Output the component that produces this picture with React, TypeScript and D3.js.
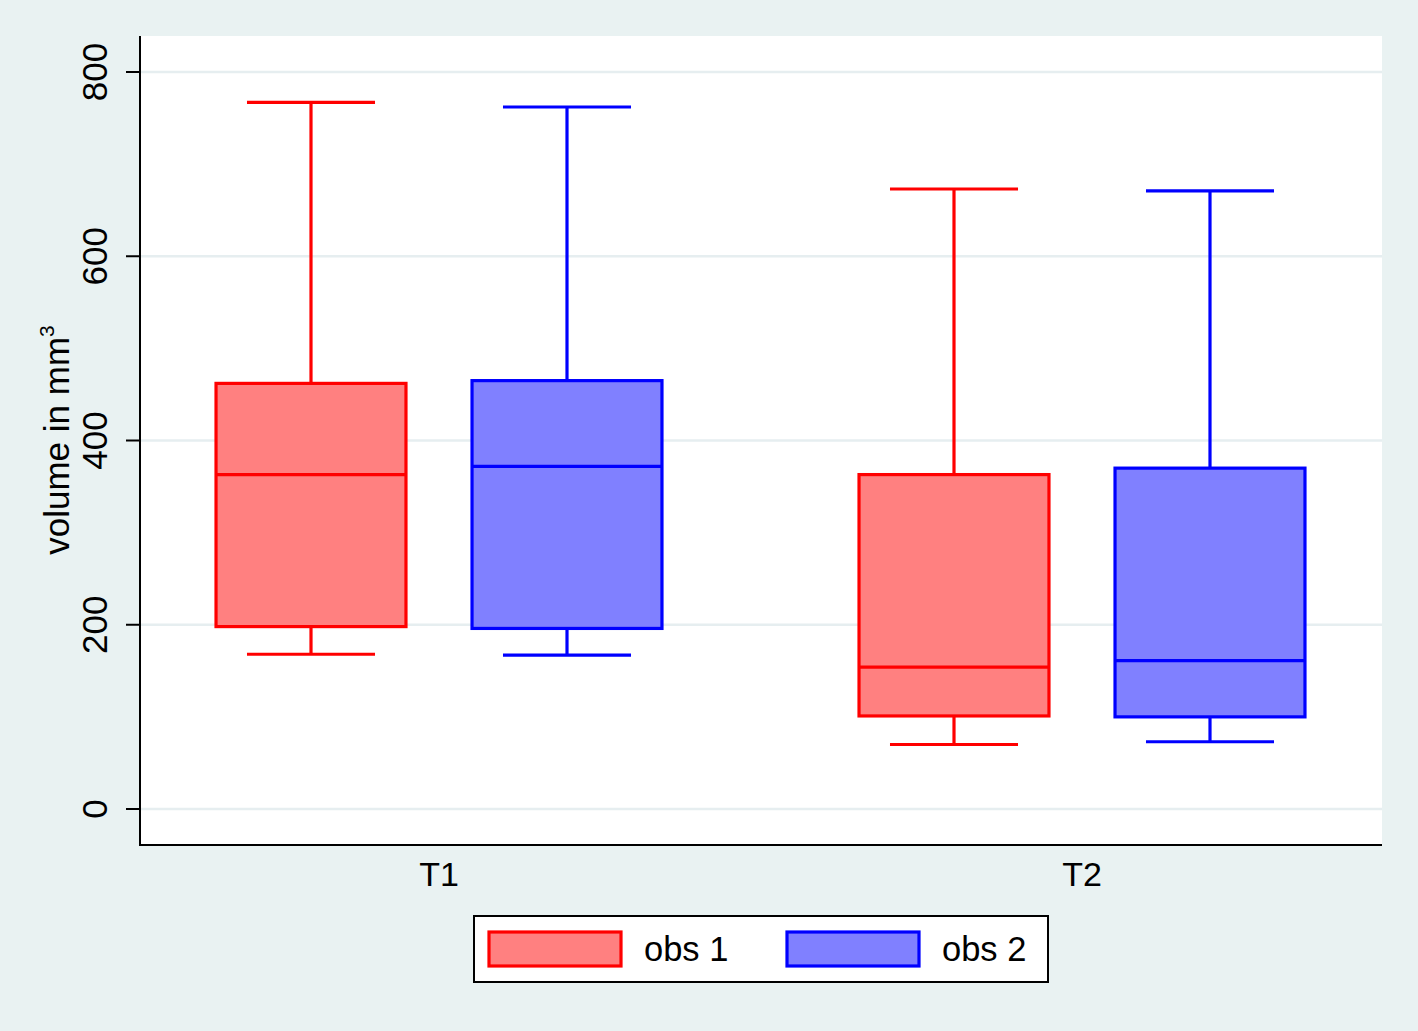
import React from "react";
import * as d3 from "d3";

const groups = ["T1", "T2"];
const seriesNames = ["obs 1", "obs 2"];
// [whiskerLow, Q1, median, Q3, whiskerHigh] per series per group
const obs1Stats = [
  [168, 198, 363, 462, 767],
  [70, 101, 154, 363, 673],
];
const obs2Stats = [
  [167, 196, 372, 465, 762],
  [73, 100, 161, 370, 671],
];
const yTicks = [0, 200, 400, 600, 800];

const W = 1418;
const H = 1031;
const plot = { left: 140, right: 1382, top: 36, bottom: 845 };
const strokeColors = ["#ff0000", "#0000ff"];
const fillColors = ["#ff8080", "#8080ff"];
const bg = "#e9f2f2";
const gridColor = "#e6eef0";
const FONT = "'Liberation Sans', Arial, Helvetica, sans-serif";

export default function App() {
  const y = d3.scaleLinear().domain([0, 800]).range([809, 72]);
  const xGroup = d3.scalePoint<string>().domain(groups).range([439, 1082]);
  const xSeries = d3
    .scaleBand<string>()
    .domain(seriesNames)
    .range([-256, 256])
    .paddingInner(0.258)
    .paddingOuter(0.129);
  const bw = xSeries.bandwidth();
  const capHalf = bw * 0.337;
  const allStats = [obs1Stats, obs2Stats];

  return (
    <svg
      width={W}
      height={H}
      style={{ position: "absolute", left: 0, top: 0, display: "block" }}
      fontFamily={FONT}
    >
      <rect x={0} y={0} width={W} height={H} fill={bg} />
      <rect
        x={plot.left}
        y={plot.top}
        width={plot.right - plot.left}
        height={plot.bottom - plot.top}
        fill="#ffffff"
      />
      {yTicks.map((t) => (
        <line
          key={"g" + t}
          x1={plot.left}
          x2={plot.right}
          y1={y(t)}
          y2={y(t)}
          stroke={gridColor}
          strokeWidth={2.5}
        />
      ))}
      {groups.map((g, gi) =>
        seriesNames.map((s, si) => {
          const st = allStats[si][gi];
          const x0 = (xGroup(g) as number) + (xSeries(s) as number);
          const cx = x0 + bw / 2;
          const [lo, q1, med, q3, hi] = st;
          return (
            <g key={g + s}>
              <line x1={cx} x2={cx} y1={y(hi)} y2={y(q3)} stroke={strokeColors[si]} strokeWidth={3.2} />
              <line x1={cx} x2={cx} y1={y(q1)} y2={y(lo)} stroke={strokeColors[si]} strokeWidth={3.2} />
              <line x1={cx - capHalf} x2={cx + capHalf} y1={y(hi)} y2={y(hi)} stroke={strokeColors[si]} strokeWidth={3.2} />
              <line x1={cx - capHalf} x2={cx + capHalf} y1={y(lo)} y2={y(lo)} stroke={strokeColors[si]} strokeWidth={3.2} />
              <rect
                x={x0}
                y={y(q3)}
                width={bw}
                height={y(q1) - y(q3)}
                fill={fillColors[si]}
                stroke={strokeColors[si]}
                strokeWidth={3.2}
              />
              <line x1={x0} x2={x0 + bw} y1={y(med)} y2={y(med)} stroke={strokeColors[si]} strokeWidth={3.2} />
            </g>
          );
        })
      )}
      {/* axes */}
      <line x1={plot.left} x2={plot.left} y1={plot.top} y2={plot.bottom + 1} stroke="#000" strokeWidth={2} />
      <line x1={plot.left - 1} x2={plot.right} y1={plot.bottom} y2={plot.bottom} stroke="#000" strokeWidth={2} />
      {yTicks.map((t) => (
        <g key={"t" + t}>
          <line x1={plot.left - 14} x2={plot.left} y1={y(t)} y2={y(t)} stroke="#000" strokeWidth={2} />
          <text
            transform={`translate(107,${y(t)}) rotate(-90)`}
            textAnchor="middle"
            fontSize={35}
            fill="#000"
          >
            {t}
          </text>
        </g>
      ))}
      <text
        transform={`translate(69,${440}) rotate(-90)`}
        textAnchor="middle"
        fontSize={35}
        fill="#000"
      >
        volume in mm
        <tspan fontSize={21} dy={-15}>3</tspan>
      </text>
      {groups.map((g) => (
        <text key={"c" + g} x={xGroup(g) as number} y={886} textAnchor="middle" fontSize={34} fill="#000">
          {g}
        </text>
      ))}
      {/* legend */}
      <rect x={474} y={916} width={574} height={66} fill="#ffffff" stroke="#000" strokeWidth={2} />
      {seriesNames.map((s, si) => (
        <g key={"l" + s} transform={`translate(${489 + si * 298},0)`}>
          <rect x={0} y={932} width={132} height={34} fill={fillColors[si]} stroke={strokeColors[si]} strokeWidth={3.2} />
          <text x={155} y={961} fontSize={34.5} fill="#000">
            {s}
          </text>
        </g>
      ))}
    </svg>
  );
}
